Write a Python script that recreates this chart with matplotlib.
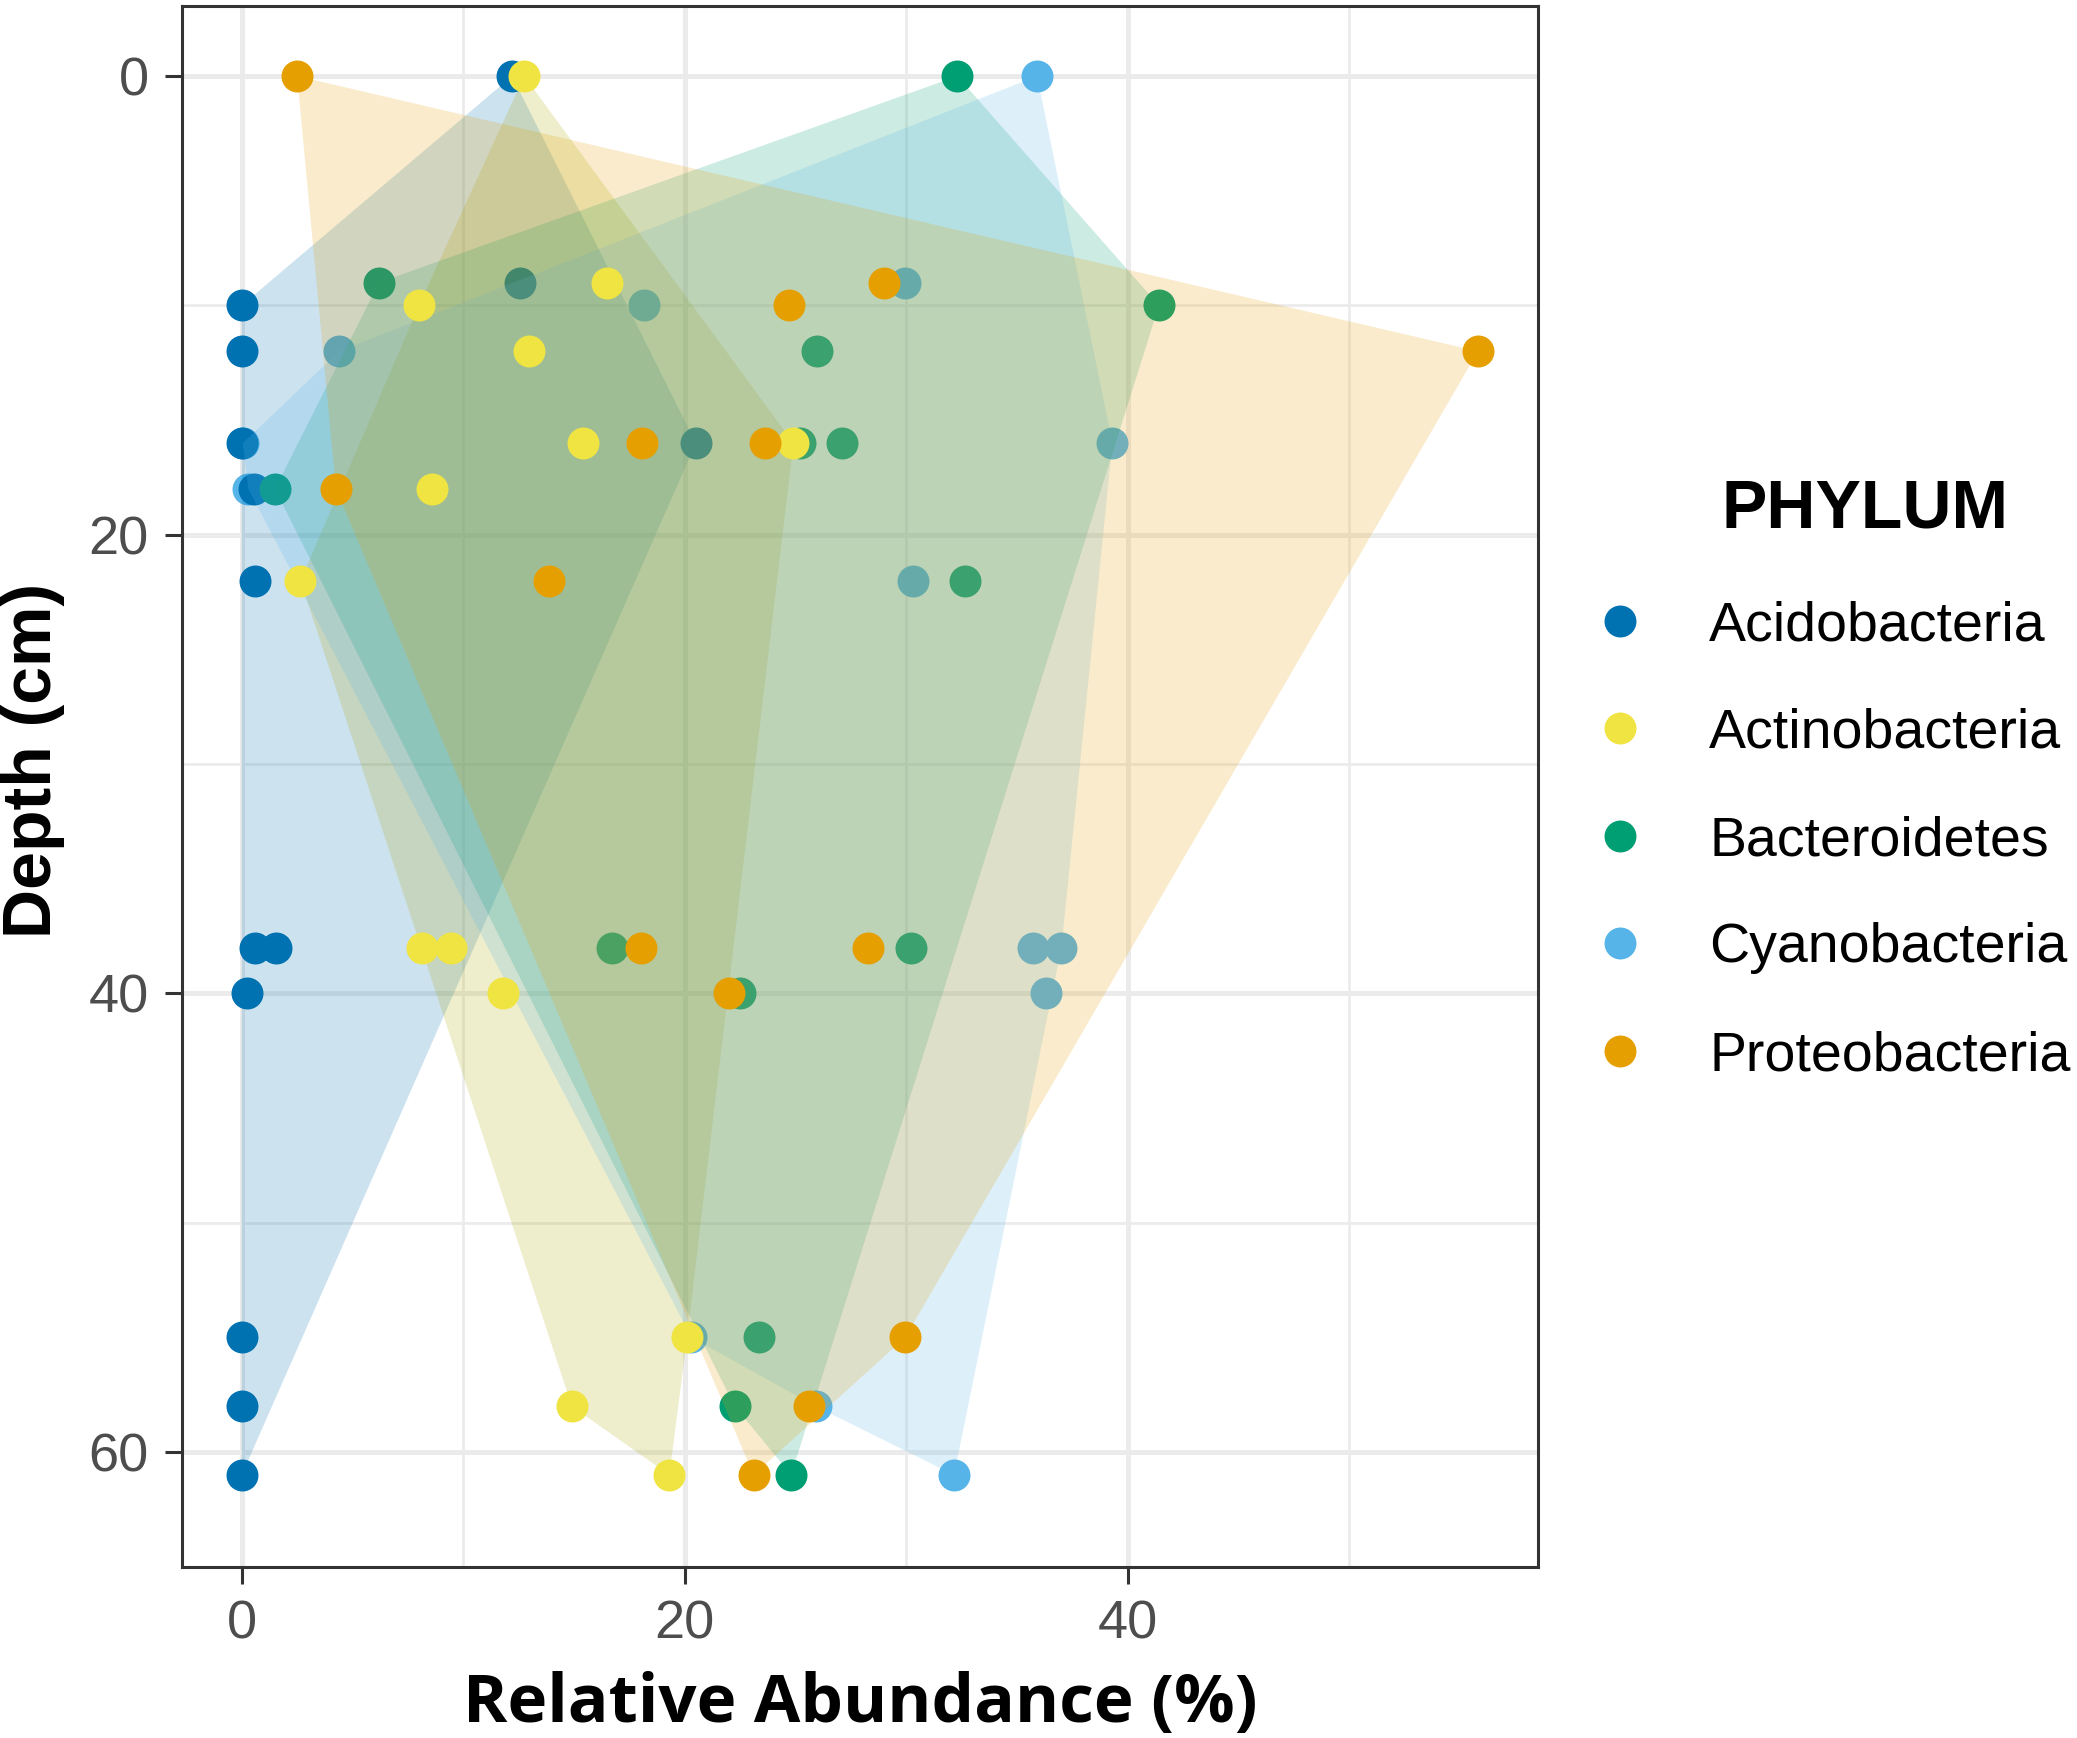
import matplotlib
matplotlib.use("Agg")
import matplotlib.pyplot as plt
from matplotlib.lines import Line2D
import numpy as np

# sample depths (cm), two cores share 16 and 38 cm
depth = [0, 9, 10, 12, 16, 16, 18, 22, 38, 38, 40, 55, 58, 61]

phyla = ["Acidobacteria", "Actinobacteria", "Bacteroidetes", "Cyanobacteria", "Proteobacteria"]
colors = ["#0072B2", "#F0E442", "#009E73", "#56B4E9", "#E69F00"]
# hull fills (the yellow one renders more olive in the original)
fills = ["#0072B2", "#AAA500", "#009E73", "#56B4E9", "#E69F00"]

# relative abundance (%) per phylum, same order as depth
acido = [12.2, 12.55, 0.0, 0.0, 0.0, 20.5, 0.55, 0.6, 0.6, 1.55, 0.25, 0.0, 0.0, 0.0]
actino = [12.75, 16.5, 8.0, 12.95, 15.4, 24.9, 8.6, 2.65, 8.15, 9.45, 11.8, 20.1, 14.9, 19.3]
bactero = [32.3, 6.2, 41.4, 25.95, 27.1, 25.2, 1.5, 32.65, 16.7, 30.2, 22.5, 23.35, 22.25, 24.8]
cyano = [35.9, 29.95, 18.15, 4.4, 0.05, 39.3, 0.3, 30.3, 35.7, 37.0, 36.3, 20.3, 25.9, 32.15]
proteo = [2.5, 29.0, 24.7, 55.8, 18.05, 23.6, 4.25, 13.85, 18.0, 28.25, 22.0, 29.95, 25.6, 23.1]

values = [acido, actino, bactero, cyano, proteo]

x_ticks = [0, 20, 40]
y_ticks = [0, 20, 40, 60]

W, H = 2077, 1738


def fx(px):
    return px / W


def fy(py):
    return 1 - py / H


def hull(xs, ys):
    # monotone chain convex hull
    pts = sorted(set(zip(xs, ys)))
    if len(pts) < 3:
        return pts

    def cross(o, a, b):
        return (a[0] - o[0]) * (b[1] - o[1]) - (a[1] - o[1]) * (b[0] - o[0])

    lower, upper = [], []
    for p in pts:
        while len(lower) >= 2 and cross(lower[-2], lower[-1], p) <= 0:
            lower.pop()
        lower.append(p)
    for p in reversed(pts):
        while len(upper) >= 2 and cross(upper[-2], upper[-1], p) <= 0:
            upper.pop()
        upper.append(p)
    return lower[:-1] + upper[:-1]


fig = plt.figure(figsize=(W / 100, H / 100), dpi=100)
left, right, top, bottom = 181.5, 1537.8, 6.2, 1566.7
ax = fig.add_axes([fx(left), fy(bottom), (right - left) / W, (bottom - top) / H])

ax.set_xlim(-2.72, 58.5)
ax.set_ylim(65.0, -3.05)

# grid like theme_bw
for v in [10, 30, 50]:
    ax.axvline(v, color="#EBEBEB", lw=1.9, zorder=0)
    ax.axhline(v, color="#EBEBEB", lw=1.9, zorder=0)
for v in x_ticks:
    ax.axvline(v, color="#EBEBEB", lw=3.6, zorder=0)
for v in y_ticks:
    ax.axhline(v, color="#EBEBEB", lw=3.6, zorder=0)

ms = 530
# these sit underneath the hulls
for i in [3, 0, 2]:
    ax.scatter(values[i], depth, s=ms, color=colors[i], lw=0, zorder=1)

for i in range(5):
    h = hull(values[i], depth)
    hx = [p[0] for p in h]
    hy = [p[1] for p in h]
    ax.fill(hx, hy, color=fills[i], alpha=0.2, lw=0, zorder=2)

# these sit on top
for i in [1, 4]:
    ax.scatter(values[i], depth, s=ms, color=colors[i], lw=0, zorder=3)

ax.set_xticks(x_ticks)
ax.set_yticks(y_ticks)
ax.tick_params(axis="both", length=12.5, width=2.2, color="#333333",
               labelsize=39, labelcolor="#4D4D4D", pad=11)
for lab in ax.get_xticklabels() + ax.get_yticklabels():
    lab.set_fontfamily("Liberation Sans")
for s in ax.spines.values():
    s.set_color("#333333")
    s.set_linewidth(2.2)

fig.text(fx(860), fy(1722), "Relative Abundance (%)", ha="center", va="baseline",
         fontsize=48.5, fontweight="bold", family="Open Sans", color="black")
fig.text(fx(33), fy(760), "Depth (cm)", ha="center", va="center", rotation=90,
         fontsize=49, fontweight="bold", family="Liberation Sans", color="black")

# legend
fig.text(fx(1722), fy(527), "PHYLUM", ha="left", va="baseline",
         fontsize=49, fontweight="bold", family="Liberation Sans", color="black")
key_y = [621, 728, 836, 943, 1051]
for i, name in enumerate(phyla):
    fig.add_artist(Line2D([fx(1620)], [fy(key_y[i])], marker="o", ms=23,
                          color=colors[i], mec="none", ls="none",
                          transform=fig.transFigure))
    fig.text(fx(1709), fy(key_y[i] + 19.5), name, ha="left", va="baseline",
             fontsize=40, family="Liberation Sans", color="black")

fig.savefig("out.png", dpi=100)
